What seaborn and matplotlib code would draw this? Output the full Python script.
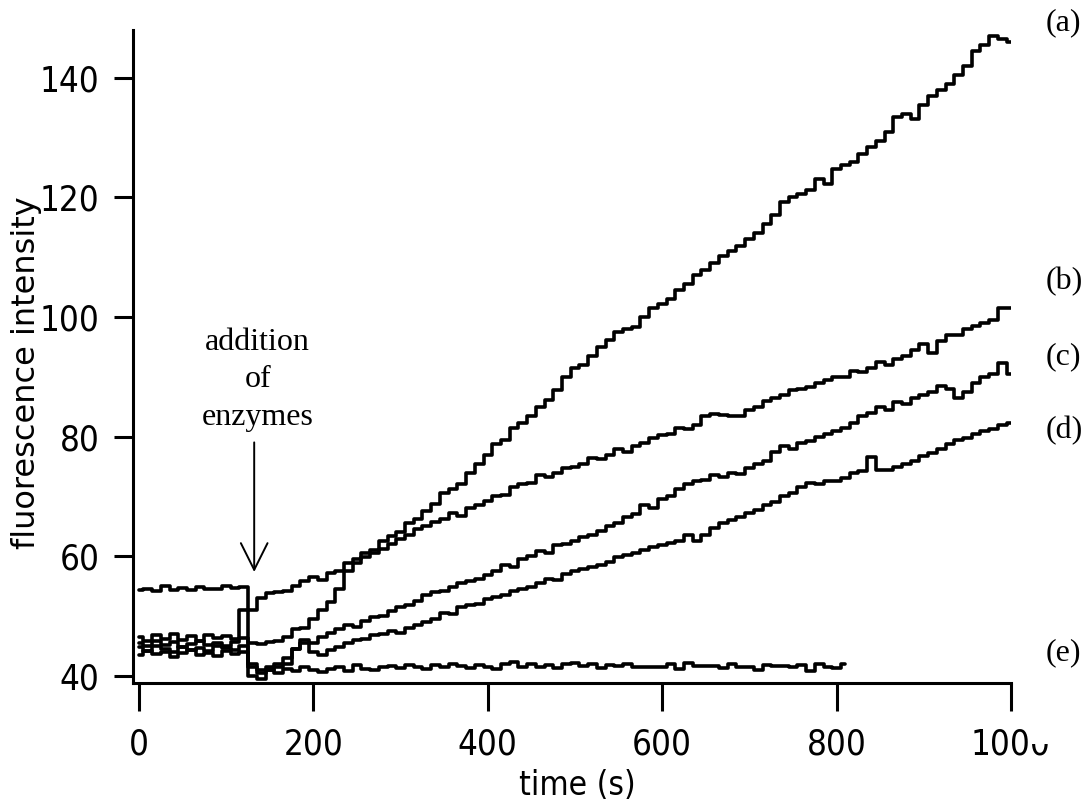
import numpy as np
import pandas as pd
import matplotlib
matplotlib.use("Agg")
import matplotlib.pyplot as plt
from matplotlib import font_manager as fm
from matplotlib.patches import Rectangle
import seaborn as sns

# Time base (s) for the four long recordings and the shorter control run
time_full = list(range(0, 1001, 10))
time_short = list(range(0, 811, 10))

trace_a = [54.3, 54.6, 54.2, 55.0, 54.4, 54.7, 54.3, 54.8, 54.5, 54.6, 55.1, 54.7, 54.9,
           51.0, 53.0, 53.8, 54.0, 54.2, 55.0, 55.8, 56.5, 56.0, 57.2, 57.5, 58.8, 59.5,
           60.6, 61.0, 62.5, 63.3, 64.0, 65.5, 66.2, 67.5, 68.8, 70.5, 71.2, 72.0, 74.0,
           75.5, 77.0, 78.8, 79.5, 81.5, 82.3, 83.5, 85.0, 86.2, 87.8, 90.0, 91.5, 92.0,
           93.5, 95.0, 96.2, 97.5, 98.0, 98.3, 100.0, 101.5, 102.2, 103.0, 104.5, 105.5,
           107.0, 107.8, 109.0, 110.2, 111.0, 111.8, 113.0, 114.0, 115.5, 117.0, 119.2,
           120.0, 120.5, 121.2, 123.0, 122.3, 124.8, 125.5, 126.0, 127.2, 128.5, 129.5,
           131.0, 133.5, 134.0, 133.2, 135.5, 137.0, 138.0, 139.0, 140.5, 142.0, 144.5,
           145.5, 147.0, 146.5, 146.0]

trace_b = [46.5, 45.8, 46.9, 46.2, 47.0, 46.0, 46.6, 45.9, 46.8, 46.3, 46.7, 46.1, 46.4,
           45.5, 45.3, 45.6, 45.8, 46.5, 47.8, 48.0, 49.5, 51.0, 52.3, 54.5, 57.5, 58.8,
           59.8, 60.5, 61.2, 62.0, 62.8, 63.5, 64.5, 65.0, 65.8, 66.2, 67.3, 66.8, 68.0,
           68.5, 69.3, 70.0, 70.2, 71.5, 72.0, 72.3, 73.5, 73.2, 74.0, 74.8, 75.0, 75.5,
           76.5, 76.2, 77.0, 78.0, 77.5, 78.5, 79.0, 79.8, 80.2, 80.5, 81.5, 81.2, 82.0,
           83.5, 83.8, 83.6, 83.4, 83.5, 84.5, 85.0, 86.0, 86.5, 87.0, 87.8, 88.0, 88.3,
           89.0, 89.5, 90.0, 90.0, 91.0, 90.8, 91.5, 92.5, 92.0, 93.0, 93.5, 94.5, 95.5,
           94.0, 96.0, 97.0, 97.0, 98.0, 98.5, 99.0, 99.5, 101.5, 101.5]

trace_c = [44.8, 44.2, 45.0, 44.5, 44.0, 44.9, 44.3, 44.7, 44.1, 45.0, 44.6, 44.3, 45.0,
           41.5, 40.5, 41.0, 41.5, 42.0, 44.5, 46.0, 45.5, 46.5, 47.2, 47.8, 48.5, 48.2,
           49.2, 49.8, 50.0, 50.8, 51.5, 51.8, 52.5, 53.5, 54.0, 54.2, 54.8, 55.5, 55.8,
           56.2, 56.8, 57.5, 58.5, 58.2, 59.5, 60.0, 60.8, 60.5, 61.8, 62.0, 62.5, 63.2,
           63.5, 64.2, 65.0, 65.5, 66.5, 67.0, 68.5, 68.0, 69.5, 70.0, 71.2, 72.0, 72.5,
           72.8, 73.5, 73.2, 74.0, 73.8, 74.8, 75.5, 76.0, 77.5, 78.5, 78.0, 79.0, 79.2,
           80.0, 80.5, 81.0, 81.5, 82.2, 83.5, 84.0, 85.0, 84.5, 85.8, 85.5, 86.5, 87.0,
           87.5, 88.5, 88.0, 86.5, 87.5, 89.0, 90.0, 90.5, 92.3, 90.5]

trace_d = [43.5, 44.2, 43.6, 44.0, 43.2, 43.9, 44.4, 43.5, 43.8, 43.3, 44.1, 43.6, 44.0,
           42.0, 41.0, 41.5, 42.0, 43.0, 44.5, 45.5, 44.0, 43.5, 44.3, 44.8, 45.5, 46.0,
           46.2, 46.8, 47.0, 47.5, 47.2, 48.0, 48.5, 49.0, 49.5, 50.5, 50.3, 51.5, 51.8,
           52.0, 52.8, 53.2, 53.5, 54.2, 54.5, 54.8, 55.5, 56.2, 56.0, 57.0, 57.5, 57.8,
           58.2, 58.5, 59.0, 59.8, 60.2, 60.5, 61.0, 61.5, 61.8, 62.2, 62.5, 63.5, 62.5,
           63.5, 64.8, 65.5, 66.0, 66.5, 67.3, 67.8, 68.5, 69.0, 70.0, 70.5, 71.5, 72.3,
           72.0, 72.5, 72.5, 73.0, 74.0, 74.2, 76.6, 74.4, 74.5, 75.0, 75.5, 76.0, 76.8,
           77.2, 78.0, 78.8, 79.5, 79.8, 80.5, 81.0, 81.2, 82.0, 82.3]

trace_e = [45.5, 45.0, 45.8, 45.2, 45.6, 44.8, 45.4, 45.9, 45.1, 45.5, 45.0, 45.7, 51.0,
           40.0, 39.5, 41.0, 40.5, 41.2, 40.8, 41.5, 41.0, 40.6, 41.2, 41.5, 40.8, 41.8,
           41.2, 40.9, 41.5, 41.7, 41.3, 41.8, 41.5, 41.2, 41.8, 41.5, 41.9, 41.6, 41.3,
           41.8, 41.5, 41.2, 42.0, 42.3, 41.5, 41.9, 41.4, 41.8, 41.3, 41.9, 42.2, 41.6,
           41.9, 41.3, 41.8, 41.6, 41.9, 41.5, 41.5, 41.5, 41.4, 41.9, 41.2, 42.1, 41.6,
           41.7, 41.6, 41.3, 41.9, 41.5, 41.5, 41.0, 41.8, 41.6, 41.7, 41.5, 41.8, 40.8,
           42.0, 41.5, 41.3, 42.0]

trace_labels = ["(a)", "(b)", "(c)", "(d)", "(e)"]
label_levels = [149.2, 106.0, 93.4, 81.0, 43.8]

x_ticks = [0, 200, 400, 600, 800, 1000]
y_ticks = [40, 60, 80, 100, 120, 140]

sns.set_theme(style="ticks")
plt.rcParams["font.family"] = ["DejaVu Sans"]
plt.rcParams["axes.edgecolor"] = "black"


def narrow_sans():
    """Pick a condensed / narrow sans face if one is installed."""
    entries = fm.fontManager.ttflist
    prefs = [
        lambda f: f.name == "Liberation Sans Narrow" and f.weight in (400, "normal", "regular") and f.style == "normal",
        lambda f: "condensed" in str(f.stretch).lower() and "sans" in f.name.lower()
                  and f.weight in (400, "normal", "regular") and f.style == "normal" and "mono" not in f.name.lower(),
        lambda f: ("narrow" in f.name.lower() or "condensed" in f.name.lower()) and f.style == "normal",
    ]
    for test in prefs:
        for f in entries:
            try:
                if test(f):
                    return fm.FontProperties(fname=f.fname)
            except Exception:
                pass
    return fm.FontProperties(family="Roboto")


tick_font = narrow_sans()

fig = plt.figure(figsize=(10.84, 8.05), dpi=100)
ax = fig.add_axes([133 / 1084, 1 - 683 / 805, (1011 - 133) / 1084, (683 - 30) / 805])

series = [(time_full, trace_a), (time_full, trace_b), (time_full, trace_c),
          (time_full, trace_d), (time_short, trace_e)]
for t, v in series:
    df = pd.DataFrame({"time": t, "value": v})
    sns.lineplot(data=df, x="time", y="value", ax=ax, color="black", lw=2.6,
                 drawstyle="steps-mid", errorbar=None, estimator=None)

ax.set_xlim(-7, 1000)
ax.set_ylim(38.8, 148)
ax.set_xticks(x_ticks)
ax.set_yticks(y_ticks)
ax.set_xticklabels([str(v) for v in x_ticks])
ax.set_yticklabels([str(v) for v in y_ticks])

for side in ["top", "right"]:
    ax.spines[side].set_visible(False)
for side in ["left", "bottom"]:
    ax.spines[side].set_linewidth(2.2)
    ax.spines[side].set_color("black")

ax.tick_params(axis="y", direction="out", length=14, width=2.2, pad=10, colors="black")
ax.tick_params(axis="x", direction="out", length=20, width=2.2, pad=12, colors="black")
for lab in ax.get_xticklabels() + ax.get_yticklabels():
    lab.set_fontproperties(tick_font)
    lab.set_fontsize(25)

ax.set_xlabel("time (s)", color="black")
ax.xaxis.label.set_fontproperties(tick_font)
ax.xaxis.label.set_fontsize(24)
ax.xaxis.set_label_coords((577 - 133) / 878, -(769 - 683) / 653)

ax.set_ylabel("fluorescence intensity", fontsize=23, color="black")
ax.yaxis.set_label_coords((42 - 133) / 878, 0.475)

serif = ["Liberation Serif", "DejaVu Serif"]
for lab, lev in zip(trace_labels, label_levels):
    ax.text(1.0395, lev, lab, transform=ax.get_yaxis_transform(), ha="left",
            va="center", fontsize=23, family=serif, color="black", clip_on=False)

ax.annotate("", xy=(132, 56.9), xytext=(132, 79.5),
            arrowprops=dict(arrowstyle="->,head_length=1.6,head_width=0.8",
                            lw=1.4, color="black"))
ax.text(136, 89.5, "addition\nof\nenzymes", ha="center", va="center",
        fontsize=23, family=serif, color="black", linespacing=1.38)

# The last x tick label runs off the page edge: mask the top of its final digit
fig.canvas.draw()
renderer = fig.canvas.get_renderer()
last = ax.get_xticklabels()[-1]
bb = last.get_window_extent(renderer)
digit_w = bb.width / 4.0
fig.patches.append(Rectangle((bb.x1 - digit_w - 1, bb.y0 + 0.5 * bb.height),
                             digit_w + 6, bb.height, transform=None,
                             facecolor="white", edgecolor="none", zorder=10))

fig.savefig("out.png", dpi=100)
